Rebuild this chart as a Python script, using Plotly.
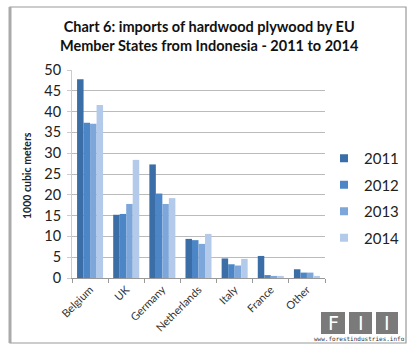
import plotly.graph_objects as go

categories = ["Belgium", "UK", "Germany", "Netherlands", "Italy", "France", "Other"]
years = ["2011", "2012", "2013", "2014"]
v2011 = [47.8, 15.2, 27.3, 9.4, 4.7, 5.3, 2.1]
v2012 = [37.3, 15.4, 20.3, 9.1, 3.3, 0.7, 1.3]
v2013 = [37.1, 17.8, 17.8, 8.2, 3.0, 0.5, 1.3]
v2014 = [41.6, 28.4, 19.2, 10.6, 4.6, 0.5, 0.5]
series = [v2011, v2012, v2013, v2014]
colors = ["#3B6EA6", "#4C86C6", "#7DA6DA", "#B3CAEA"]
y_ticks = [0, 5, 10, 15, 20, 25, 30, 35, 40, 45, 50]

W, H = 418, 355
L, R, T, B = 72, 325, 70, 278

def px(x):
    return (x - L) / (R - L)

def py(y):
    return (B - y) / (B - T)

FONT = "Lato, Carlito, Calibri, sans-serif"

fig = go.Figure()
for name, vals, c in zip(years, series, colors):
    fig.add_trace(go.Bar(x=categories, y=vals, name=name, marker_color=c,
                         marker_line_width=0, showlegend=False))
for name, c in zip(years, colors):
    fig.add_trace(go.Scatter(x=[None], y=[None], mode="markers", name=name,
                             marker=dict(symbol="square", size=8, color=c),
                             legendgroup=name))

fig.update_layout(
    width=W, height=H,
    margin=dict(l=L, r=W - R, t=T, b=H - B, autoexpand=False),
    paper_bgcolor="white", plot_bgcolor="white",
    barmode="group", bargap=0.28, bargroupgap=0,
    font=dict(family=FONT, color="#222222"),
    legend=dict(x=px(324), y=py(142), xanchor="left", yanchor="top",
                font=dict(size=15, family=FONT, color="#222222"),
                tracegroupgap=4, itemwidth=30, bgcolor="rgba(0,0,0,0)"),
    xaxis=dict(showgrid=False, tickangle=-45, tickfont=dict(size=11, family=FONT, color="#333333"),
               ticks="outside", tickson="boundaries", ticklen=4, tickcolor="#999999",
               showline=True, linecolor="#999999", linewidth=1, automargin=False),
    yaxis=dict(range=[0, 50], tickvals=y_ticks, showgrid=True, gridcolor="#BBBBBB", gridwidth=1,
               tickfont=dict(size=14.5, family=FONT, color="#222222"), ticklabelstandoff=3,
               showline=True, linecolor="#CCCCCC", ticks="outside", ticklen=4, tickcolor="#CCCCCC",
               zeroline=False, automargin=False),
)

# title
fig.add_annotation(text="<b>Chart 6: imports of hardwood plywood by EU<br>Member States from Indonesia - 2011 to 2014</b>",
                   x=px(209), y=py(36), xref="paper", yref="paper", showarrow=False,
                   xanchor="center", yanchor="middle",
                   font=dict(size=14.5, family=FONT, color="#111111"), align="center")
# y axis title
fig.add_annotation(text="<b>1000 cubic meters</b>", x=px(27), y=py(176), xref="paper", yref="paper",
                   xanchor="center", yanchor="middle",
                   showarrow=False, textangle=-90, font=dict(size=10.5, family=FONT, color="#222222"))

# outer frame
fig.add_shape(type="rect", xref="paper", yref="paper", x0=px(10), x1=px(406), y0=py(343), y1=py(7),
              line=dict(color="#9A9A9A", width=1.2))
fig.add_shape(type="line", xref="paper", yref="paper", x0=px(10), x1=px(10), y0=py(343), y1=py(7),
              line=dict(color="#AAAAAA", width=3))

# logo
for x0, x1, letter in [(321, 345, "F"), (349, 372, "I"), (376, 398, "I")]:
    fig.add_shape(type="rect", xref="paper", yref="paper", x0=px(x0), x1=px(x1), y0=py(334), y1=py(312),
                  line=dict(width=0), fillcolor="#7A7A7A")
    fig.add_annotation(text=letter, x=px((x0 + x1) / 2), y=py(323), xref="paper", yref="paper",
                       xanchor="center", yanchor="middle",
                       showarrow=False, font=dict(size=19, family="DejaVu Sans", color="white"))
fig.add_annotation(text="www.forestindustries.info", x=px(359), y=py(338.5), xref="paper", yref="paper",
                   xanchor="center", yanchor="middle",
                   showarrow=False, font=dict(size=6, family="DejaVu Sans Mono", color="#333333"))

fig.write_html("out.html", config={"displayModeBar": False},
               post_script="document.body.style.margin='0';")
